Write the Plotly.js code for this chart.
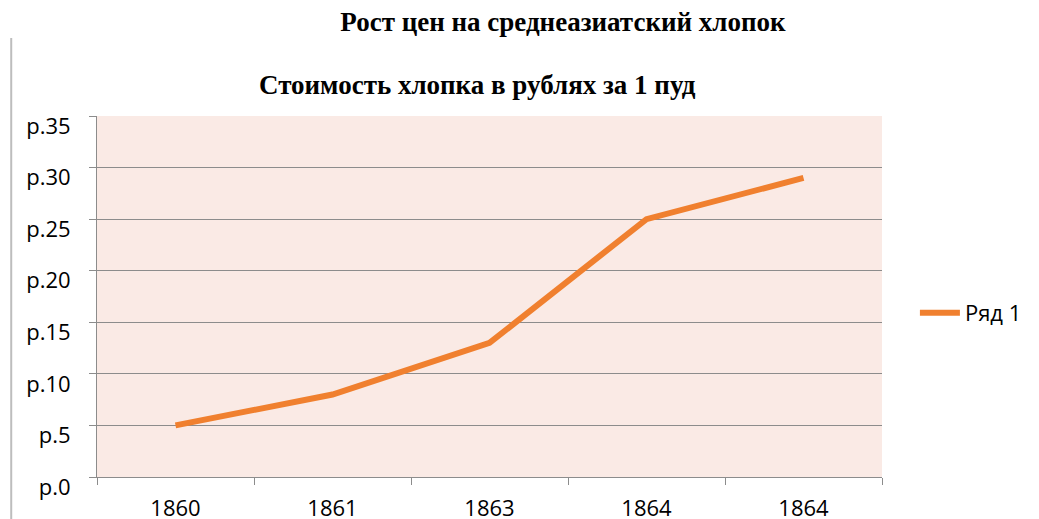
<!DOCTYPE html>
<html>
<head>
<meta charset="utf-8">
<script src="https://cdn.plot.ly/plotly-3.0.1.min.js"></script>
<style>html,body{margin:0;padding:0;background:#fff;}#chart{width:1039px;height:519px;}</style>
</head>
<body>
<div id="chart"></div>
<script>
const categories = ['1860', '1861', '1863', '1864', '1864'];
const priceValues = [5, 8, 13, 25, 29];
const seriesName = 'Ряд 1';
const yTickValues = [0, 5, 10, 15, 20, 25, 30, 35];
const yTickLabels = ['р.0', 'р.5', 'р.10', 'р.15', 'р.20', 'р.25', 'р.30', 'р.35'];
const mainTitle = 'Рост цен на среднеазиатский хлопок';
const subTitle = 'Стоимость хлопка в рублях за 1 пуд';

const xPos = categories.map((c, i) => i);

const trace = {
  x: xPos,
  y: priceValues,
  type: 'scatter',
  mode: 'lines',
  name: seriesName,
  line: {color: '#F0802F', width: 6}
};

const layout = {
  width: 1039,
  height: 519,
  margin: {l: 97, r: 155, t: 116, b: 42, pad: 0},
  paper_bgcolor: '#ffffff',
  plot_bgcolor: '#FAEAE5',
  title: {
    text: '<b>' + mainTitle + '</b>',
    font: {family: 'Liberation Serif, serif', size: 27, color: '#000'},
    x: 563 / 1039, xanchor: 'center', xref: 'container',
    y: 1 - 22 / 519, yanchor: 'middle', yref: 'container'
  },
  annotations: [{
    text: '<b>' + subTitle + '</b>',
    font: {family: 'Liberation Serif, serif', size: 27, color: '#000'},
    xref: 'paper', yref: 'paper',
    x: (478 - 97) / 787, y: (477 - 85) / 361,
    xanchor: 'center', yanchor: 'middle', showarrow: false
  }],
  shapes: [{
    type: 'line', xref: 'paper', yref: 'paper',
    x0: (11 - 97) / 787, x1: (11 - 97) / 787,
    y0: (477 - 525) / 361, y1: (477 - 38) / 361,
    line: {color: '#BDBDBD', width: 2}
  }],
  xaxis: {
    type: 'linear',
    range: [-0.5, 4.5],
    tickmode: 'array',
    tickvals: xPos,
    ticktext: categories,
    ticks: '',
    showgrid: false,
    zeroline: false,
    showline: true,
    linecolor: '#8C8C8C',
    linewidth: 1,
    tickfont: {family: 'Open Sans, sans-serif', size: 22, color: '#000'},
    ticklabelstandoff: 12,
    minor: {tick0: -0.5, dtick: 1, ticks: 'outside', ticklen: 7, tickcolor: '#8C8C8C', tickwidth: 1, showgrid: false},
    fixedrange: true
  },
  yaxis: {
    range: [0, 35],
    tickmode: 'array',
    tickvals: yTickValues,
    ticktext: yTickLabels,
    ticks: 'outside',
    ticklen: 7,
    tickcolor: '#8C8C8C',
    showgrid: true,
    gridcolor: '#8C8C8C',
    gridwidth: 1,
    zeroline: false,
    showline: true,
    linecolor: '#8C8C8C',
    linewidth: 1,
    tickfont: {family: 'Open Sans, sans-serif', size: 22, color: '#000'},
    ticklabelstandoff: 14,
    ticklabelshift: 10,
    fixedrange: true
  },
  showlegend: true,
  legend: {
    x: (917 - 97) / 787, xanchor: 'left',
    y: (477 - 313) / 361, yanchor: 'middle',
    font: {family: 'Open Sans, sans-serif', size: 22, color: '#000'},
    bgcolor: 'rgba(0,0,0,0)',
    itemwidth: 40
  }
};

Plotly.newPlot('chart', [trace], layout, {displayModeBar: false, staticPlot: true});
</script>
</body>
</html>
